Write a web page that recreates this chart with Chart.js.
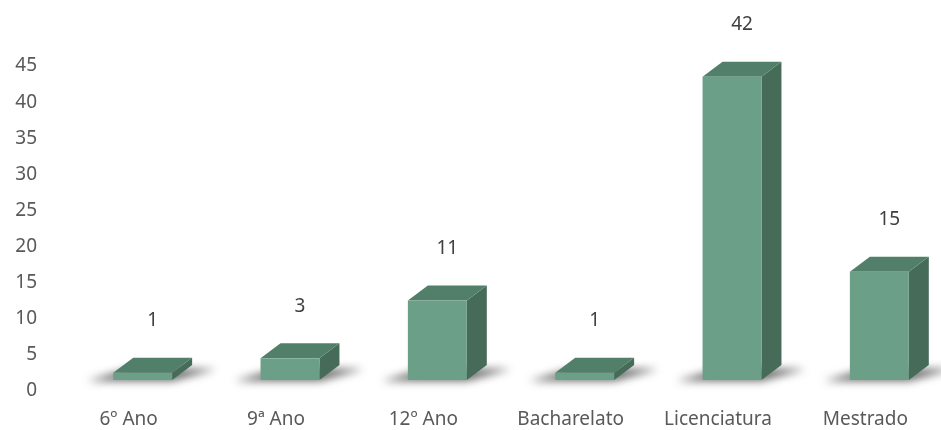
<!DOCTYPE html>
<html><head><meta charset="utf-8">
<script src="https://cdn.jsdelivr.net/npm/chart.js@4/dist/chart.umd.min.js"></script>
<style>html,body{margin:0;padding:0;background:#fff}#wrap{width:941px;height:430px}</style>
</head><body><div id="wrap"><canvas id="c" width="941" height="430"></canvas></div>
<script>
const categories = ["6º Ano", "9ª Ano", "12º Ano", "Bacharelato", "Licenciatura", "Mestrado"];
const values = [1, 3, 11, 1, 42, 15];
const yTicks = [0, 5, 10, 15, 20, 25, 30, 35, 40, 45];

const FRONT = '#6c9f88', TOP = '#527f69', SIDE = '#466b58';
const SHIFT_X = 14, LIFT = 11, DX = 20, DY = 15;
const FONT = '"Noto Sans", "Open Sans", sans-serif';

const bars3d = {
  id: 'bars3d',
  afterDatasetsDraw(chart) {
    const ctx = chart.ctx;
    const meta = chart.getDatasetMeta(0);
    ctx.save();
    meta.data.forEach((el, i) => {
      const p = el.getProps(['x', 'y', 'base', 'width'], true);
      const fl = p.x - p.width / 2 + SHIFT_X, fr = p.x + p.width / 2 + SHIFT_X;
      const ft = p.y - LIFT, fb = p.base - LIFT;
      // floor shadow
      ctx.save();
      ctx.filter = 'blur(4px)';
      ctx.fillStyle = 'rgba(40,40,40,0.7)';
      ctx.beginPath();
      ctx.moveTo(fl - 26, fb + 1);
      ctx.lineTo(fr, fb + 1);
      ctx.lineTo(fr + DX + 24, fb - DY + 4);
      ctx.lineTo(fl + DX - 4, fb - DY + 4);
      ctx.closePath();
      ctx.fill();
      ctx.restore();
      // side
      ctx.fillStyle = SIDE;
      ctx.beginPath();
      ctx.moveTo(fr, ft); ctx.lineTo(fr + DX, ft - DY); ctx.lineTo(fr + DX, fb - DY); ctx.lineTo(fr, fb);
      ctx.closePath(); ctx.fill();
      // top
      ctx.fillStyle = TOP;
      ctx.beginPath();
      ctx.moveTo(fl, ft); ctx.lineTo(fl + DX, ft - DY); ctx.lineTo(fr + DX, ft - DY); ctx.lineTo(fr, ft);
      ctx.closePath(); ctx.fill();
      // front
      ctx.fillStyle = FRONT;
      ctx.fillRect(fl, ft, fr - fl, fb - ft);
      // value label
      ctx.fillStyle = '#404040';
      ctx.font = '19px ' + FONT;
      ctx.textAlign = 'center';
      ctx.textBaseline = 'middle';
      ctx.fillText(String(values[i]), (fl + fr) / 2 + 10, ft - DY - 37);
    });
    ctx.restore();
  }
};

new Chart(document.getElementById('c'), {
  type: 'bar',
  data: {
    labels: categories,
    datasets: [{ data: values, backgroundColor: 'rgba(0,0,0,0)', borderWidth: 0,
      barPercentage: 0.4, categoryPercentage: 1 }]
  },
  options: {
    responsive: false,
    animation: false,
    events: [],
    layout: { padding: { top: 66, right: 2, left: 0, bottom: 0 } },
    plugins: { legend: { display: false }, tooltip: { enabled: false } },
    scales: {
      x: {
        grid: { display: false, drawTicks: false }, border: { display: false },
        ticks: { color: '#595959', padding: 17, font: { size: 19, family: FONT } },
        afterFit(s) { s.height = 39; }
      },
      y: {
        min: 0, max: 45,
        grid: { display: false, drawTicks: false }, border: { display: false },
        afterBuildTicks(s) { s.ticks = yTicks.map(v => ({ value: v })); },
        ticks: { color: '#595959', padding: 18, font: { size: 19, family: FONT } },
        afterFit(s) { s.width = 55; }
      }
    }
  },
  plugins: [bars3d]
});
</script></body></html>
